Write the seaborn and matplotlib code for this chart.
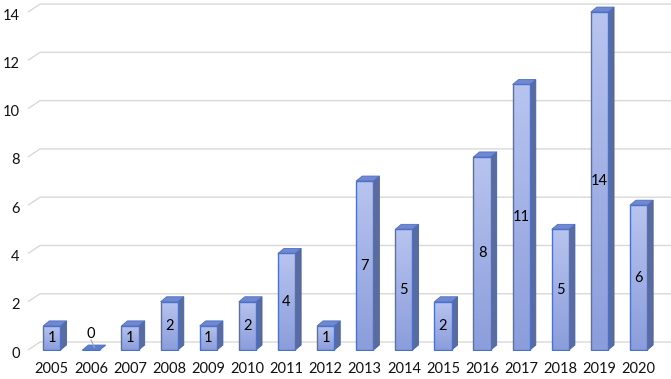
import numpy as np
import pandas as pd
import matplotlib
matplotlib.use("Agg")
import matplotlib.pyplot as plt
import matplotlib.transforms as mtransforms
import seaborn as sns
from matplotlib.patches import Polygon
from matplotlib.colors import LinearSegmentedColormap

years = ["2005", "2006", "2007", "2008", "2009", "2010", "2011", "2012",
         "2013", "2014", "2015", "2016", "2017", "2018", "2019", "2020"]
counts = [1, 0, 1, 2, 1, 2, 4, 1, 7, 5, 2, 8, 11, 5, 14, 6]
yticks = [0, 2, 4, 6, 8, 10, 12, 14]

df = pd.DataFrame({"year": years, "count": counts})

sns.set_theme(style="white")
plt.rcParams["font.family"] = ["Lato", "DejaVu Sans"]

fig = plt.figure(figsize=(6.71, 3.79), dpi=100)
ax = fig.add_axes([28 / 671, 1 - 351 / 379, 1 - 28 / 671, 351 / 379])

sns.barplot(data=df, x="year", y="count", ax=ax, width=0.44,
            color="#a4b3e6", edgecolor="#4a72c8", linewidth=1.0, zorder=3)

ax.set_xlim(-0.61, 15.83)
ax.set_ylim(-0.04, 14.5)
ax.set_yticks(yticks)
ax.set_yticklabels([str(t) for t in yticks])
ax.set_xlabel("")
ax.set_ylabel("")
for s in ax.spines.values():
    s.set_visible(False)
ax.tick_params(axis="both", length=0, labelsize=10.5, colors="#111111")
ax.tick_params(axis="y", pad=6)
ax.tick_params(axis="x", pad=8)
ax.grid(False)

shift = mtransforms.ScaledTranslation(0, -2 / 100, fig.dpi_scale_trans)
for lbl in ax.get_yticklabels():
    lbl.set_transform(lbl.get_transform() + shift)

fig.canvas.draw()
p0 = ax.transData.transform((0, 0))
p1 = ax.transData.transform((1, 1))
px_x = p1[0] - p0[0]
px_y = p1[1] - p0[1]

# back wall gridlines
wdx, wdy = 12 / px_x, 8 / px_y
x0 = ax.get_xlim()[0]
x1 = ax.get_xlim()[1]
for t in yticks:
    ax.plot([x0, x0 + wdx, x1], [t, t + wdy, t + wdy], color="#d9d9d9",
            lw=1.0, zorder=1, solid_capstyle="butt", clip_on=False)

# 3D faces for bars
bdx, bdy = 6 / px_x, 5 / px_y
grad = LinearSegmentedColormap.from_list("g", ["#8b9ddb", "#b8c4ef"])
gimg = np.linspace(0, 1, 100).reshape(-1, 1)
for patch, v in zip(ax.patches, counts):
    x = patch.get_x()
    w = patch.get_width()
    h = patch.get_height()
    if h > 0:
        im = ax.imshow(gimg, cmap=grad, origin="lower", aspect="auto",
                       extent=(x, x + w, 0, h), zorder=3.5, interpolation="bilinear")
        im.set_clip_path(patch)
        patch.set_facecolor("none")
        patch.set_zorder(4)
    side = Polygon([(x + w, 0), (x + w + bdx, bdy), (x + w + bdx, h + bdy), (x + w, h)],
                   closed=True, facecolor="#5b6b9c", edgecolor="#4a5f9a", lw=0.6, zorder=3)
    ax.add_patch(side)
    top = Polygon([(x, h), (x + bdx, h + bdy), (x + w + bdx, h + bdy), (x + w, h)],
                  closed=True, facecolor="#7187cf" if h > 0 else "#5b7fd0",
                  edgecolor="#4a72c8", lw=0.6, zorder=3)
    ax.add_patch(top)
    cx = x + w / 2
    if h > 0:
        ax.text(cx, h / 2, str(v), ha="center", va="center", fontsize=10.5,
                color="#000000", zorder=6)
    else:
        ax.text(cx, 0.68, str(v), ha="center", va="center", fontsize=10.5,
                color="#000000", zorder=6)
        ax.plot([cx, cx + bdx * 0.6], [0.42, bdy * 0.5], color="#aaaaaa", lw=0.8, zorder=5)

ax.set_xlim(x0, x1)
ax.set_ylim(-0.04, 14.5)
fig.savefig("out.png", dpi=100)
